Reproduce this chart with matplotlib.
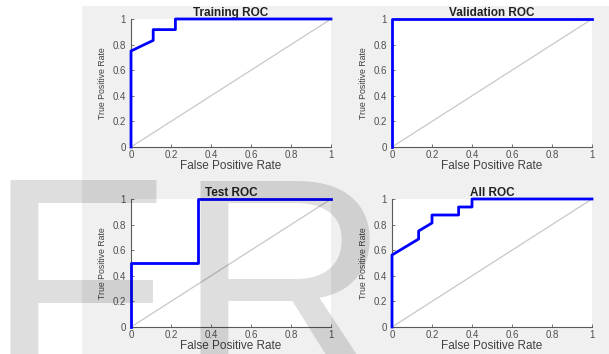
"""ROC curves, 2x2 grid (training / validation / test / all)"""
import matplotlib
matplotlib.use("Agg")
from matplotlib import pyplot as plt
from matplotlib.patches import Rectangle
from matplotlib.ticker import FuncFormatter

plt.rcParams["font.family"] = ["Liberation Sans", "DejaVu Sans"]

titles = ["Training ROC", "Validation ROC", "Test ROC", "All ROC"]

train_fpr = [0, 0, 0.111, 0.111, 0.222, 0.222, 1]
train_tpr = [0, 0.75, 0.833, 0.917, 0.917, 1, 1]

val_fpr = [0, 0, 1]
val_tpr = [0, 1, 1]

test_fpr = [0, 0, 0.333, 0.333, 1]
test_tpr = [0, 0.5, 0.5, 1, 1]

all_fpr = [0, 0, 0.133, 0.133, 0.2, 0.2, 0.333, 0.333, 0.4, 0.4, 1]
all_tpr = [0, 0.5625, 0.6875, 0.75, 0.8125, 0.875, 0.875, 0.9375, 0.9375, 1, 1]

curves = [(train_fpr, train_tpr), (val_fpr, val_tpr),
          (test_fpr, test_tpr), (all_fpr, all_tpr)]
ticks = [0, 0.2, 0.4, 0.6, 0.8, 1]

W, H = 609, 354
fig = plt.figure(figsize=(W / 100, H / 100), dpi=100, facecolor="white")

# matlab-ish grey figure panel
fig.patches.append(Rectangle((82 / W, 0), 1 - 82 / W, 1 - 6 / H,
                             transform=fig.transFigure, facecolor="#f0f0f0",
                             edgecolor="none", zorder=-10))

positions = [
    (131 / W, 1 - 147 / H),
    (392 / W, 1 - 147 / H),
    (131 / W, 1 - 327 / H),
    (392 / W, 1 - 327 / H),
]
aw, ah = 200 / W, 128 / H

for (x0, y0), title, (fpr, tpr) in zip(positions, titles, curves):
    ax = fig.add_axes([x0, y0, aw, ah])
    ax.set_facecolor("white")
    ax.plot([0, 1], [0, 1], color="#c8c8c8", lw=0.9)
    ax.plot(fpr, tpr, color="#0000ff", lw=2.0, clip_on=False, zorder=5)
    ax.set_xlim(0, 1)
    ax.set_ylim(0, 1)
    ax.set_xticks(ticks)
    ax.set_yticks(ticks)
    fmt = FuncFormatter(lambda v, p: "%g" % v)
    ax.xaxis.set_major_formatter(fmt)
    ax.yaxis.set_major_formatter(fmt)
    for s in ["top", "right"]:
        ax.spines[s].set_visible(False)
    for s in ["left", "bottom"]:
        ax.spines[s].set_color("#5a5a5a")
        ax.spines[s].set_linewidth(0.8)
    ax.tick_params(direction="in", length=2.5, width=0.6, colors="#5a5a5a",
                   labelsize=7, labelcolor="#505050")
    ax.tick_params(axis="x", pad=2.5)
    ax.tick_params(axis="y", pad=3.5)
    ax.set_title(title, fontsize=8.5, fontweight="bold", color="#222222", pad=1.5)
    ax.set_xlabel("False Positive Rate", fontsize=8.5, color="#404040", labelpad=0)
    ax.set_ylabel("True Positive Rate", fontsize=6.3, color="#404040", labelpad=4)

# watermark letters
wm = dict(fontsize=215, color="black", alpha=0.13, va="baseline", ha="left",
          transform=fig.transFigure, zorder=20)
fig.text(-14.5 / W, 1 - 386 / H, "F", **wm)
fig.text(176 / W, 1 - 386 / H, "R", **wm)

fig.savefig("out.png", dpi=100, facecolor="white")
